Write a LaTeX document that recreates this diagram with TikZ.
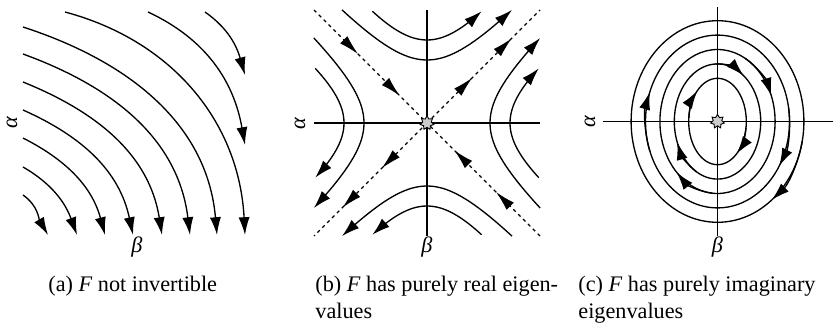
\documentclass[tikz,border=0pt]{standalone}
\usepackage{fontspec}
\setmainfont{Liberation Serif}
\usetikzlibrary{arrows.meta, positioning, shapes.geometric, decorations.markings}

\begin{document}
\begin{tikzpicture}[
        x=0.45pt, y=0.45pt,
        flow/.style={line width=0.6pt, -{Latex[length=8pt, width=5pt]}},
        orbit/.style={line width=0.6pt},
        axis/.style={line width=0.7pt},
        eigen/.style={line width=0.5pt, dash pattern=on 1.5pt off 1.6pt},
        inward/.style={postaction={decorate, decoration={markings,
            mark=at position 0.39 with {\arrow{Latex[length=9pt, width=4.6pt]}},
            mark=at position 0.76 with {\arrow{Latex[length=9pt, width=4.6pt]}}}}},
        outward/.style={postaction={decorate, decoration={markings,
            mark=at position 0.40 with {\arrow{Latex[length=9pt, width=4.6pt]}},
            mark=at position 0.75 with {\arrow{Latex[length=9pt, width=4.6pt]}}}}},
        fixpt/.style={star, star points=7, star point ratio=1.6, draw, fill=gray!40,
            line width=0.4pt, inner sep=0pt, minimum size=6.3pt},
        varlabel/.style={inner sep=1pt},
        caption/.style={anchor=north west, align=left, inner sep=0pt}
    ]
        \useasboundingbox (0,0) rectangle (836,333);

        % (a)
        \draw[flow] (23,138) to[out=-35, in=120] (48,98);
        \draw[flow] (23,166) to[out=-30, in=110] (77,98);
        \draw[flow] (23,195) to[out=-27, in=105] (105,98);
        \draw[flow] (23,223) to[out=-24, in=102] (133,98);
        \draw[flow] (23,251) to[out=-22, in=99] (162,98);
        \draw[flow] (23,279) to[out=-20, in=97] (190,98);
        \draw[flow] (23,306) to[out=-18, in=95] (217,98);
        \draw[flow] (65,321) to[out=-15, in=93] (245,98);
        \draw[flow] (148,321) to[out=-25, in=100] (245,188);
        \draw[flow] (205,321) to[out=-35, in=106] (245,258);
        \node[varlabel, rotate=90] (alphaA) at (12,211) {\textit{α}};
        \node[varlabel] (betaA) at (137,86) {\textit{β}};

        % (b)
        \begin{scope}[shift={(427,210)}]
            \coordinate (b0) at (0,0);
            \draw[axis] (-113,0) -- (113,0);
            \draw[axis] (0,-113) -- (0,113);
            \draw[eigen, inward] (-113,113) -- (b0);
            \draw[eigen, inward] (113,-113) -- (b0);
            \draw[eigen, outward] (b0) -- (113,113);
            \draw[eigen, outward] (b0) -- (-113,-113);
            \draw[flow] plot[domain=-1.19:1.19, samples=40, variable=\t] ({57*sinh(\t)}, {63*cosh(\t)});
            \draw[flow] plot[domain=-0.81:0.81, samples=40, variable=\t] ({60.6*sinh(\t)}, {83*cosh(\t)});
            \draw[flow] plot[domain=-1.19:1.19, samples=40, variable=\t] ({-57*sinh(\t)}, {-63*cosh(\t)});
            \draw[flow] plot[domain=-0.81:0.81, samples=40, variable=\t] ({-60.6*sinh(\t)}, {-83*cosh(\t)});
            \draw[flow] plot[domain=-1.19:1.19, samples=40, variable=\t] ({-63*cosh(\t)}, {-57*sinh(\t)});
            \draw[flow] plot[domain=-0.81:0.81, samples=40, variable=\t] ({-83*cosh(\t)}, {-60.6*sinh(\t)});
            \draw[flow] plot[domain=-1.19:1.19, samples=40, variable=\t] ({63*cosh(\t)}, {57*sinh(\t)});
            \draw[flow] plot[domain=-0.81:0.81, samples=40, variable=\t] ({83*cosh(\t)}, {60.6*sinh(\t)});
            \node[fixpt] (saddle) at (b0) {};
            \node[varlabel, rotate=90] (alphaB) at (-127,0) {\textit{α}};
            \node[varlabel] (betaB) at (0,-124) {\textit{β}};
        \end{scope}

        % (c)
        \begin{scope}[shift={(717.5,211.5)}]
            \coordinate (c0) at (0,0);
            \draw[axis] (-115,0) -- (115,0);
            \draw[axis] (0,-114) -- (0,114);
            \draw[orbit] (c0) ellipse[x radius=28.8, y radius=43.2];
            \draw[orbit] (c0) ellipse[x radius=43.2, y radius=57.6];
            \draw[orbit] (c0) ellipse[x radius=57.6, y radius=72];
            \draw[orbit] (c0) ellipse[x radius=72, y radius=86.4];
            \draw[orbit] (c0) ellipse[x radius=86.4, y radius=100.8];
            \draw[flow] (175:28.8 and 43.2) arc[start angle=175, end angle=135, x radius=28.8, y radius=43.2];
            \draw[flow] (352:28.8 and 43.2) arc[start angle=352, end angle=312, x radius=28.8, y radius=43.2];
            \draw[flow] (93:43.2 and 57.6) arc[start angle=93, end angle=53, x radius=43.2, y radius=57.6];
            \draw[flow] (241:43.2 and 57.6) arc[start angle=241, end angle=201, x radius=43.2, y radius=57.6];
            \draw[flow] (61:57.6 and 72) arc[start angle=61, end angle=21, x radius=57.6, y radius=72];
            \draw[flow] (265:57.6 and 72) arc[start angle=265, end angle=225, x radius=57.6, y radius=72];
            \draw[flow] (200:72 and 86.4) arc[start angle=200, end angle=160, x radius=72, y radius=86.4];
            \draw[flow] (9:72 and 86.4) arc[start angle=9, end angle=-31, x radius=72, y radius=86.4];
            \draw[flow] (349:86.4 and 100.8) arc[start angle=349, end angle=309, x radius=86.4, y radius=100.8];
            \node[fixpt] (centre) at (c0) {};
            \node[varlabel, rotate=90] (alphaC) at (-127.5,0) {\textit{α}};
            \node[varlabel] (betaC) at (0,-125.5) {\textit{β}};
        \end{scope}

        \node[caption] (capA) at (48,57) {(a) \textit{F} not invertible};
        \node[caption] (capB) at (315,57) {(b) \textit{F} has purely real eigen-\\values};
        \node[caption] (capC) at (578,57) {(c) \textit{F} has purely imaginary\\eigenvalues};
\end{tikzpicture}
\end{document}
